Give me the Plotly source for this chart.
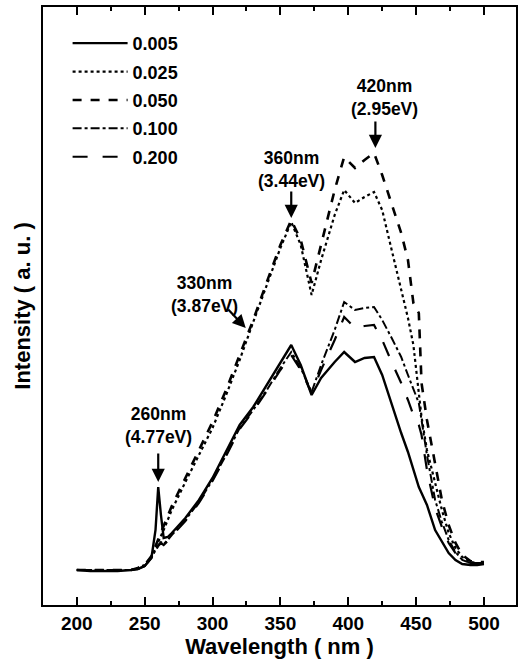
import plotly.graph_objects as go

wavelength = [200, 210, 220, 230, 240, 245, 250, 255, 258, 260, 262, 264, 267, 270, 280,
              290, 300, 310, 320, 330, 340, 350, 358, 365, 373, 380, 390, 397, 405, 412,
              419, 425, 432, 439, 444, 448, 452, 454, 458, 464, 469, 474, 479, 484, 490,
              495, 500]

i_0005 = [35, 34, 34, 34, 35, 36, 39, 47, 75, 118, 90, 67, 68, 72, 87,
          105, 127, 153, 180, 198, 220, 243, 260, 240, 210, 227, 243, 253, 243, 247,
          248, 230, 200, 172, 153, 135, 118, 112, 100, 75, 63, 52, 45, 41, 40,
          40, 41]
i_0025 = [35, 35, 35, 35, 35, 37, 40, 48, 57, 62, 68, 75, 85, 95, 123,
          150, 177, 210, 245, 283, 320, 357, 383, 360, 310, 345, 390, 415, 402, 408,
          413, 395, 355, 315, 287, 260, 215, 188, 155, 122, 95, 72, 57, 48, 43,
          42, 42]
i_0050 = [35, 35, 35, 35, 35, 37, 40, 49, 59, 65, 72, 79, 89, 99, 127,
          155, 183, 215, 250, 285, 323, 360, 385, 365, 322, 360, 415, 448, 437, 445,
          452, 430, 400, 372, 345, 302, 292, 222, 185, 140, 105, 80, 62, 50, 44,
          43, 43]
i_0100 = [35, 35, 35, 35, 35, 36, 39, 47, 55, 60, 63, 61, 65, 70, 85,
          103, 125, 150, 177, 195, 215, 237, 253, 237, 213, 240, 275, 303, 295, 297,
          298, 285, 267, 248, 230, 215, 202, 185, 150, 105, 83, 65, 53, 45, 42,
          42, 42]
i_0200 = [35, 35, 35, 35, 35, 36, 39, 47, 55, 59, 62, 60, 64, 69, 84,
          102, 124, 149, 176, 194, 214, 235, 250, 235, 212, 235, 265, 288, 277, 279,
          280, 265, 243, 222, 205, 190, 180, 170, 135, 97, 78, 62, 52, 45, 42,
          42, 42]

series_names = ["0.005", "0.025", "0.050", "0.100", "0.200"]
series_vals = [i_0005, i_0025, i_0050, i_0100, i_0200]
dash_styles = ["solid", "dot", "dash", "dashdot", "longdash"]
widths = [2.4, 2.2, 2.6, 2.0, 2.2]

# peak labels
ann_texts = ["260nm<br>(4.77eV)", "330nm<br>(3.87eV)", "360nm<br>(3.44eV)", "420nm<br>(2.95eV)"]
ann_text_x = [260, 294, 358, 426.5]
ann_text_y = [180, 311, 436, 508]
ann_head_x = [260, 324.5, 358, 420]
ann_head_y = [123, 277, 387, 457]
ann_tail_dx = [0, -19, 0, 0]
ann_tail_dy = [-30, -20, -28, -28]

FONT = "Liberation Sans, Arial, sans-serif"

fig = go.Figure()
for name, vals, dsh, w in zip(series_names, series_vals, dash_styles, widths):
    fig.add_trace(go.Scatter(x=wavelength, y=vals, mode="lines", name=name, legendgroup=name,
                             line=dict(color="black", dash=dsh, width=w)))

afont = dict(family=FONT, size=17.5, color="black", weight="bold")
for t, tx, ty, hx, hy, dx, dy in zip(ann_texts, ann_text_x, ann_text_y,
                                     ann_head_x, ann_head_y, ann_tail_dx, ann_tail_dy):
    fig.add_annotation(x=tx, y=ty, text=t, showarrow=False, font=afont)
    fig.add_annotation(x=hx, y=hy, text="", showarrow=True, ax=dx, ay=dy,
                       arrowhead=2, arrowsize=1.2, arrowwidth=2.2, arrowcolor="black",
                       standoff=0, startstandoff=0)

fig.update_layout(
    width=520, height=662,
    margin=dict(l=43, r=2, t=7, b=57),
    paper_bgcolor="white", plot_bgcolor="white",
    font=dict(family=FONT, color="black", weight="bold"),
    showlegend=True,
    legend=dict(x=0.052, y=0.97, xanchor="left", yanchor="top",
                bgcolor="rgba(0,0,0,0)", font=dict(size=18, family=FONT, weight="bold"),
                itemwidth=55, tracegroupgap=2),
    xaxis=dict(range=[175.1, 523.6], tickvals=[200, 250, 300, 350, 400, 450, 500],
               ticks="inside", ticklen=8, tickwidth=1.5, tickcolor="black",
               minor=dict(ticks="inside", ticklen=4, dtick=25, tick0=0, tickcolor="black"),
               showline=True, linecolor="black", linewidth=2, mirror="ticks",
               showgrid=False, zeroline=False,
               tickfont=dict(size=19, family=FONT, weight="bold"),
               title=dict(text="Wavelength ( nm )", standoff=2,
                          font=dict(size=22, family=FONT, weight="bold"))),
    yaxis=dict(range=[0, 598], showticklabels=False, ticks="",
               showline=True, linecolor="black", linewidth=2, mirror=True,
               showgrid=False, zeroline=False,
               title=dict(text="Intensity ( a. u. )", standoff=4,
                          font=dict(size=22, family=FONT, weight="bold"))),
)

fig.write_html("out.html")
